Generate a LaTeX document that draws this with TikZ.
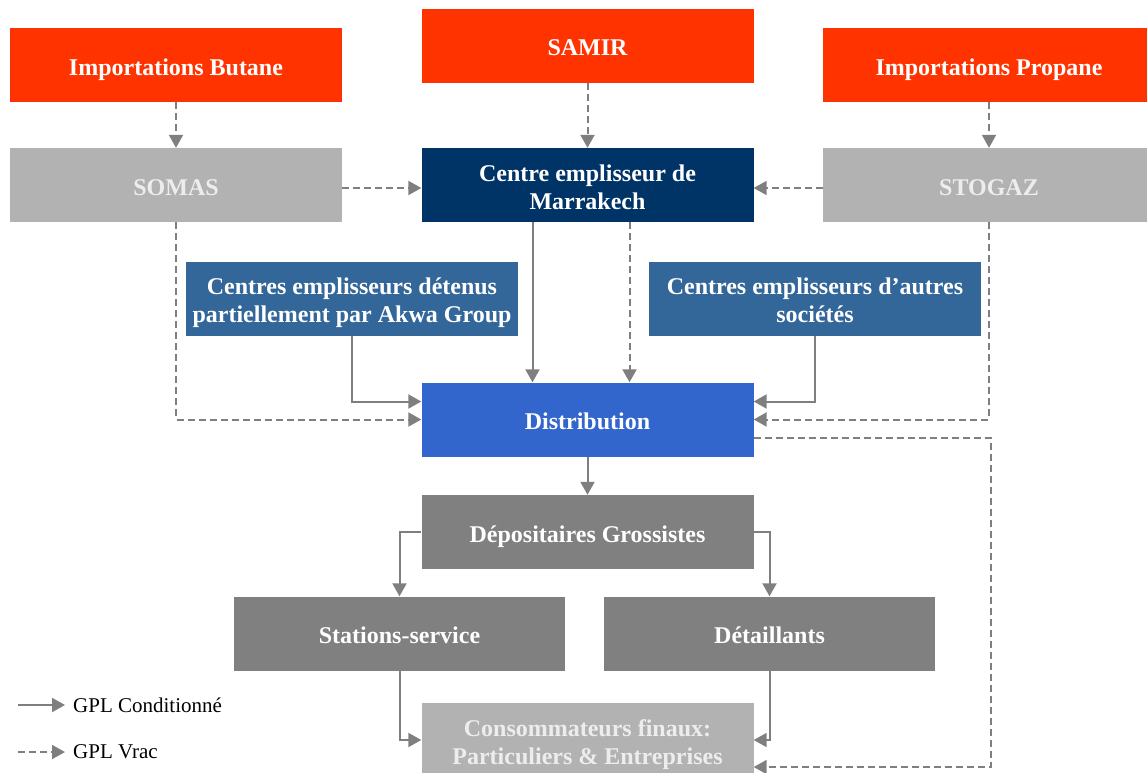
\documentclass[tikz,border=0pt]{standalone}
\usepackage{fontspec}
\setmainfont{Liberation Serif}
\usetikzlibrary{arrows.meta}

\definecolor{rouge}{HTML}{FF3300}
\definecolor{marine}{HTML}{003366}
\definecolor{bleu}{HTML}{336699}
\definecolor{bleuvif}{HTML}{3366CC}
\definecolor{grisclair}{HTML}{B2B2B2}
\definecolor{gris}{HTML}{808080}
\definecolor{fleche}{HTML}{7F7F7F}

\tikzset{
	boite/.style={minimum width=332pt, minimum height=74pt, inner sep=0pt, align=center,
		text=white, font=\fontsize{24}{28}\selectfont\bfseries,
		execute at begin node={\rule{0pt}{26pt}}, execute at end node={\rule[-6pt]{0pt}{0pt}}},
	deux/.style={execute at begin node={\rule{0pt}{54pt}}},
	pale/.style={boite, fill=grisclair, text=white!93!black},
	cond/.style={draw=fleche, line width=2pt, -{Triangle[length=13pt,width=14pt]}},
	vrac/.style={cond, dash pattern=on 7pt off 4pt},
	legende/.style={anchor=west, inner sep=0pt, inner xsep=8pt, font=\fontsize{21}{25}\selectfont},
}

\begin{document}
\begin{tikzpicture}[x=1pt,y=-1pt]
		\useasboundingbox (0,0) rectangle (1147,772);
		\begin{scope}
			% sources
			\node[boite, fill=rouge] (butane) at (176,65) {Importations Butane};
			\node[boite, fill=rouge] (samir) at (587.5,45.5) {SAMIR};
			\node[boite, fill=rouge] (propane) at (989,65) {Importations Propane};
			\node[pale] (somas) at (176,185) {SOMAS};
			\node[boite, deux, fill=marine] (centre) at (587.5,185) {Centre emplisseur de\\Marrakech};
			\node[pale] (stogaz) at (989,185) {STOGAZ};
			\node[boite, deux, fill=bleu] (akwa) at (352,298.5) {Centres emplisseurs détenus\\partiellement par Akwa Group};
			\node[boite, deux, fill=bleu] (autres) at (815,298.5) {Centres emplisseurs d’autres\\sociétés};
			% aval
			\node[boite, fill=bleuvif] (distri) at (587.5,419.5) {Distribution};
			\node[boite, fill=gris] (depos) at (587.5,532) {Dépositaires Grossistes};
			\node[boite, fill=gris, minimum width=331pt] (stations) at (399.5,633.5) {Stations-service};
			\node[boite, fill=gris, minimum width=331pt] (detail) at (769.5,633.5) {Détaillants};
			\node[pale, deux] (conso) at (587.5,740) {Consommateurs finaux:\\Particuliers \& Entreprises};

			% GPL vrac
			\draw[vrac] (butane) -- (somas);
			\draw[vrac] (samir) -- (centre);
			\draw[vrac] (propane) -- (stogaz);
			\draw[vrac] ([yshift=-3pt]somas.east) -- ([yshift=-3pt]centre.west);
			\draw[vrac] ([yshift=-3pt]stogaz.west) -- ([yshift=-3pt]centre.east);
			\draw[vrac] ([xshift=42pt]centre.south) -- ([xshift=42pt]distri.north);
			\draw[vrac] (somas.south) |- (distri.west);
			\draw[vrac] (stogaz.south) |- (distri.east);
			\draw[vrac] ([yshift=-18pt]distri.east) -- ++(237,0) |- ([yshift=-27pt]conso.east);

			% GPL conditionne
			\draw[cond] ([xshift=-55pt]centre.south) -- ([xshift=-55pt]distri.north);
			\draw[cond] (akwa.south) |- ([yshift=18pt]distri.west);
			\draw[cond] (autres.south) |- ([yshift=18pt]distri.east);
			\draw[cond] (distri) -- (depos);
			\draw[cond] (depos.west) -| (stations.north);
			\draw[cond] (depos.east) -| (detail.north);
			\draw[cond] (stations.south) |- (conso.west);
			\draw[cond] (detail.south) |- (conso.east);

			% legende
			\coordinate (lc) at (18,705);
			\coordinate (lv) at (18,752);
			\node[legende] (lcond) at (65,705) {GPL Conditionné};
			\node[legende] (lvrac) at (65,752) {GPL Vrac};
			\draw[cond] (lc) -- (lcond.west);
			\draw[vrac] (lv) -- (lvrac.west);
		\end{scope}
	\end{tikzpicture}
\end{document}
